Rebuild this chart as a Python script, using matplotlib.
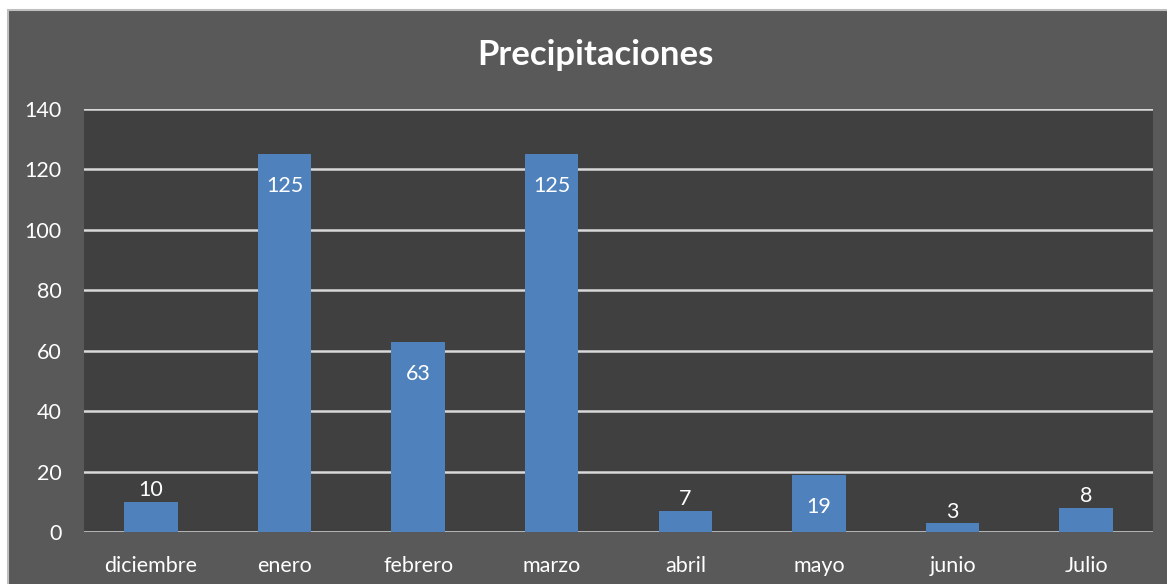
import matplotlib.pyplot as plt
from matplotlib.patches import Rectangle

# datos
meses = ['diciembre', 'enero', 'febrero', 'marzo', 'abril', 'mayo', 'junio', 'Julio']
precip = [10, 125, 63, 125, 7, 19, 3, 8]
yticks = [0, 20, 40, 60, 80, 100, 120, 140]

plt.rcParams['font.family'] = ['Lato', 'DejaVu Sans']

W, H = 1167, 584
fig = plt.figure(figsize=(W / 100, H / 100), dpi=100, facecolor='white')

# fondo del grafico (recortado a la derecha y abajo)
fig.patches.append(Rectangle((8 / W, -0.05), 1.1, (H - 10) / H + 0.05,
                             transform=fig.transFigure, facecolor='#595959',
                             edgecolor='#BFBFBF', linewidth=1.5, zorder=-1))

ax = fig.add_axes([84 / W, 1 - 532 / H, (1153 - 84) / W, (532 - 109) / H])
ax.set_zorder(2)
ax.set_facecolor('#404040')

x = range(len(meses))
ax.bar(x, precip, width=0.4, color='#4F81BD', zorder=3)

for i, v in zip(x, precip):
    if v > 15:
        ax.annotate(str(v), (i, v), xytext=(0, -23), textcoords='offset points',
                    ha='center', va='center', color='white', fontsize=15.5)
    else:
        ax.annotate(str(v), (i, v), xytext=(0, 1), textcoords='offset points',
                    ha='center', va='bottom', color='white', fontsize=15.5)

ax.set_ylim(0, 140)
ax.set_xlim(-0.5, len(meses) - 0.5)
ax.set_yticks(yticks)
ax.set_xticks(list(x))
ax.set_xticklabels(meses)
ax.grid(axis='y', color='#D9D9D9', linewidth=1.8, zorder=1)
ax.set_axisbelow(True)
ax.tick_params(colors='white', labelsize=15.5, length=0)
ax.tick_params(axis='x', pad=17)
ax.tick_params(axis='y', pad=16)
for s in ax.spines.values():
    s.set_visible(False)

fig.text(595 / W, 1 - 55 / H, 'Precipitaciones', ha='center', va='center',
         color='white', fontsize=25, fontweight='bold', zorder=3)

fig.savefig('out.png', dpi=100, facecolor='white')
